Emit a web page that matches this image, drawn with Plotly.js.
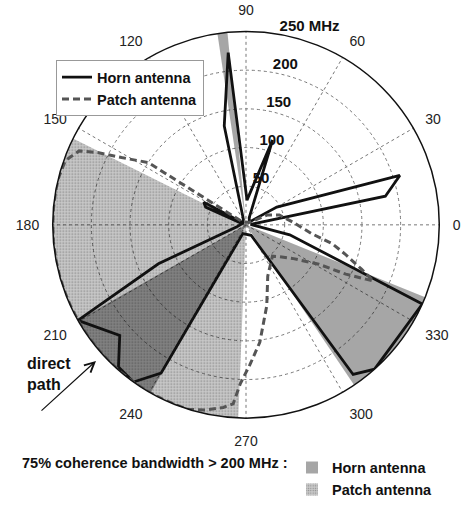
<!DOCTYPE html>
<html><head><meta charset="utf-8">
<script src="https://cdn.plot.ly/plotly-3.0.1.min.js"></script>
<style>html,body{margin:0;padding:0;background:#fff;}#chart{width:470px;height:506px;}</style>
</head><body><div id="chart"></div>
<script>
// Horn antenna: 75% coherence bandwidth (MHz) vs angle (deg)
const hornTheta = [0, 6, 11.6, 17.8, 30, 40, 66, 72.6, 87.7, 95.9, 102.4, 115, 146, 151.9, 156.3, 162, 192, 204, 209.6, 221.2, 228.1, 234.4, 240.2, 250, 296, 305.6, 311.7, 335.8, 347.2, 360];
const hornR     = [8, 6, 184, 209, 46, 6, 10, 115, 32, 224, 131, 8, 5, 62, 57, 5, 12, 124, 250, 217, 247, 250, 221, 12, 15, 238, 250, 250, 58, 8];

// Patch antenna
const patchTheta = [3.7, 16.4, 25, 35, 140, 147.5, 151.6, 153.9, 156.1, 160.4, 165.9, 170, 175, 180, 185, 190, 195, 200, 205, 210, 215, 220, 225, 230, 235, 240, 245, 250, 252.7, 257.7, 262.9, 265.9, 268, 271.6, 276.7, 284.4, 293, 310.2, 316.7, 324.1, 331.6, 333.7, 335.6, 336.2, 339, 343.5, 347.7, 352.3, 3.7];
const patchR     = [60, 45, 30, 6, 6, 150, 183, 212, 236, 248, 250, 250, 250, 250, 250, 250, 250, 250, 250, 250, 250, 250, 250, 250, 250, 250, 250, 250, 250, 245, 238, 232, 205, 181, 153, 108, 72, 53, 60, 74, 107, 144, 170, 180, 160, 134, 114, 86, 60];

// Sectors where 75% coherence bandwidth > 200 MHz (deg)
const hornSectorStart  = [95.5, 209.6, 304];
const hornSectorEnd    = [98.5, 240.4, 338];
const patchSectorStart = [153.5];
const patchSectorEnd   = [267.7];

const angularTicks    = [0, 30, 60, 90, 120, 150, 180, 210, 240, 270, 300, 330];
const angularTickText = ['0', '30', '60', '90', '120', '150', '180', '210', '240', '270', '300', '330'];
const radialTicks     = [50, 100, 150, 200, 250];
const radialTickText  = ['50', '100', '150', '200', '250 MHz'];
const rMax = 250;

const FONT = 'Liberation Sans, Arial, Helvetica, sans-serif';
const mid = (a, b) => a.map((s, i) => (s + b[i]) / 2);
const wid = (a, b) => a.map((s, i) => b[i] - s);

const traces = [
  {
    type: 'barpolar', name: 'Patch antenna', legend: 'legend2',
    r: patchSectorStart.map(() => rMax), theta: mid(patchSectorStart, patchSectorEnd), width: wid(patchSectorStart, patchSectorEnd),
    marker: {color: 'rgba(0,0,0,0.21)', line: {width: 0},
      pattern: {shape: '.', size: 3, solidity: 0.25, fgcolor: 'rgba(0,0,0,0.32)', bgcolor: 'rgba(0,0,0,0.21)', fillmode: 'replace'}},
    hoverinfo: 'skip'
  },
  {
    type: 'barpolar', name: 'Horn antenna', legend: 'legend2',
    r: hornSectorStart.map(() => rMax), theta: mid(hornSectorStart, hornSectorEnd), width: wid(hornSectorStart, hornSectorEnd),
    marker: {color: 'rgba(0,0,0,0.35)', line: {width: 0}},
    hoverinfo: 'skip'
  },
  {
    type: 'scatterpolar', mode: 'text', showlegend: false,
    r: radialTicks, theta: radialTicks.map(() => 80), text: radialTickText,
    textposition: 'top right', cliponaxis: false,
    textfont: {family: FONT, size: 15, weight: 'bold', color: '#111'},
    hoverinfo: 'skip'
  },
  {
    type: 'scatterpolar', mode: 'lines', name: 'Horn antenna', legend: 'legend',
    r: hornR, theta: hornTheta, cliponaxis: false,
    line: {color: '#111', width: 2.8}
  },
  {
    type: 'scatterpolar', mode: 'lines', name: 'Patch antenna', legend: 'legend',
    r: patchR, theta: patchTheta, cliponaxis: false,
    line: {color: '#555', width: 3, dash: '7px,4px'}
  }
];

const layout = {
  width: 470, height: 506,
  margin: {l: 0, r: 0, t: 0, b: 0},
  paper_bgcolor: '#fff',
  font: {family: FONT, color: '#111'},
  showlegend: true,
  polar: {
    domain: {x: [50 / 470, 442 / 470], y: [1 - 424 / 506, 1 - 32 / 506]},
    bgcolor: '#fff',
    barmode: 'overlay',
    radialaxis: {
      range: [0, rMax], tickmode: 'array', tickvals: radialTicks,
      showticklabels: false, ticks: '', showline: false,
      gridcolor: '#777', griddash: 'dot', gridwidth: 1
    },
    angularaxis: {
      tickmode: 'array', tickvals: angularTicks, ticktext: angularTickText,
      rotation: 0, direction: 'counterclockwise',
      showline: true, linecolor: '#111', linewidth: 1.5,
      gridcolor: '#777', griddash: 'dot', gridwidth: 1,
      ticks: 'outside', ticklen: 10, tickcolor: 'rgba(0,0,0,0)',
      tickfont: {family: FONT, size: 14, color: '#222'}
    }
  },
  legend: {
    x: 56 / 470, y: 1 - 61 / 506, xanchor: 'left', yanchor: 'top',
    bgcolor: '#fff', bordercolor: '#999', borderwidth: 1,
    font: {family: FONT, size: 14.5, weight: 'bold', color: '#111'},
    tracegroupgap: 0, itemwidth: 30
  },
  legend2: {
    x: 292 / 470, y: 1 - 458 / 506, xanchor: 'left', yanchor: 'top',
    bgcolor: 'rgba(0,0,0,0)', borderwidth: 0, traceorder: 'reversed',
    font: {family: FONT, size: 14.5, weight: 'bold', color: '#111'},
    tracegroupgap: 0
  },
  annotations: [
    {xref: 'paper', yref: 'paper', x: 20 / 470, y: 1 - 469 / 506, xanchor: 'left', yanchor: 'middle',
     text: '75% coherence bandwidth > 200 MHz :', showarrow: false,
     font: {family: FONT, size: 14.5, weight: 'bold', color: '#111'}},
    {xref: 'paper', yref: 'paper', x: 25 / 470, y: 1 - 379 / 506, xanchor: 'left', yanchor: 'middle',
     text: 'direct<br>path', align: 'left', showarrow: false,
     font: {family: FONT, size: 16, weight: 'bold', color: '#111'}},
    {xref: 'paper', yref: 'paper', x: 96 / 470, y: 1 - 366 / 506, text: '', showarrow: true,
     ax: -56, ay: 51, arrowhead: 5, arrowsize: 1.6, arrowwidth: 1.2, arrowcolor: '#111'}
  ]
};

Plotly.newPlot('chart', traces, layout, {displayModeBar: false, staticPlot: true});
</script>
</body></html>
